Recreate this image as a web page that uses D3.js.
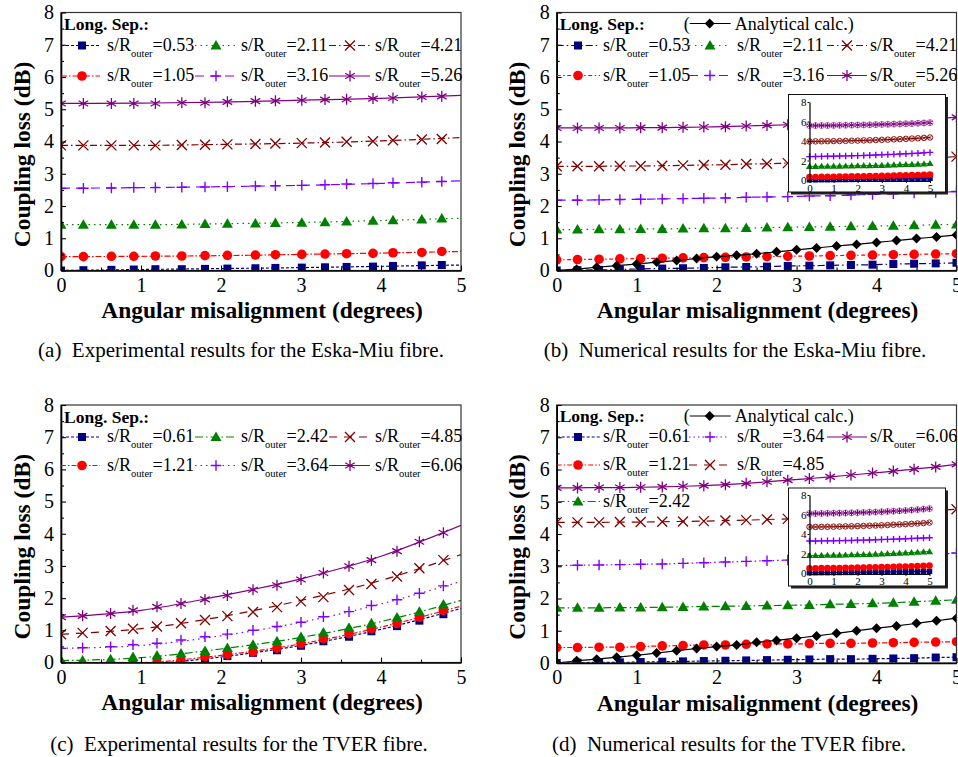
<!DOCTYPE html>
<html><head><meta charset="utf-8">
<script src="https://cdn.jsdelivr.net/npm/d3@7"></script>
<style>
body{margin:0;background:#fff;}
svg{display:block;}
</style></head><body>
<svg id="chart" width="958" height="757"></svg>
<script>
// ---------- data ----------
// x axes (angular misalignment, degrees)
const expAnglesA = [0, 0.28, 0.63, 0.91, 1.18, 1.51, 1.8, 2.08, 2.43, 2.68, 3.01, 3.3, 3.57, 3.9, 4.15, 4.51, 4.76];
const expAnglesC = [0, 0.27, 0.62, 0.9, 1.2, 1.5, 1.8, 2.08, 2.4, 2.7, 3.0, 3.28, 3.6, 3.88, 4.2, 4.48, 4.78];
const fitAngles = [0, 1, 2, 3, 4, 5];
const numAngles = [0, 0.26, 0.53, 0.79, 1.05, 1.32, 1.58, 1.84, 2.11, 2.37, 2.63, 2.89, 3.16, 3.42, 3.68, 3.95, 4.21, 4.47, 4.74, 5.0];
const anaAngles = [0, 0.25, 0.5, 0.75, 1, 1.25, 1.5, 1.75, 2, 2.25, 2.5, 2.75, 3, 3.25, 3.5, 3.75, 4, 4.25, 4.5, 4.75, 5];
const insetAngles = anaAngles;

// longitudinal separations (s/R_outer)
const sepEska = ["0.53", "1.05", "2.11", "3.16", "4.21", "5.26"];
const sepTver = ["0.61", "1.21", "2.42", "3.64", "4.85", "6.06"];

// (a) experimental, Eska-Miu: measured points and fitted trend lines
const a053 = [0.0, 0.01, 0.02, 0.03, 0.04, 0.04, 0.05, 0.06, 0.07, 0.08, 0.09, 0.1, 0.11, 0.12, 0.14, 0.16, 0.17];
const a105 = [0.43, 0.43, 0.44, 0.44, 0.45, 0.45, 0.46, 0.47, 0.48, 0.49, 0.5, 0.51, 0.52, 0.53, 0.55, 0.56, 0.59];
const a211 = [1.42, 1.42, 1.42, 1.42, 1.42, 1.43, 1.44, 1.45, 1.46, 1.47, 1.48, 1.5, 1.52, 1.54, 1.56, 1.58, 1.61];
const a316 = [2.55, 2.55, 2.56, 2.57, 2.57, 2.58, 2.59, 2.6, 2.62, 2.63, 2.64, 2.66, 2.68, 2.7, 2.72, 2.74, 2.76];
const a421 = [3.88, 3.88, 3.88, 3.88, 3.88, 3.89, 3.9, 3.91, 3.92, 3.94, 3.95, 3.97, 3.99, 4.01, 4.04, 4.06, 4.08];
const a526 = [5.18, 5.18, 5.18, 5.18, 5.18, 5.2, 5.2, 5.23, 5.25, 5.26, 5.28, 5.3, 5.31, 5.33, 5.35, 5.38, 5.4];
const fitA053 = [0.0, 0.03, 0.06, 0.09, 0.13, 0.17];
const fitA105 = [0.43, 0.44, 0.46, 0.5, 0.54, 0.59];
const fitA211 = [1.42, 1.42, 1.45, 1.49, 1.55, 1.62];
const fitA316 = [2.55, 2.57, 2.6, 2.64, 2.7, 2.78];
const fitA421 = [3.88, 3.88, 3.91, 3.95, 4.02, 4.12];
const fitA526 = [5.18, 5.19, 5.22, 5.28, 5.34, 5.43];

// (b) numerical, Eska-Miu
const b053 = [0.0, 0.01, 0.02, 0.03, 0.05, 0.06, 0.07, 0.08, 0.1, 0.11, 0.12, 0.14, 0.15, 0.16, 0.17, 0.18, 0.2, 0.21, 0.22, 0.24];
const b105 = [0.33, 0.34, 0.35, 0.36, 0.37, 0.38, 0.39, 0.4, 0.41, 0.42, 0.43, 0.44, 0.45, 0.46, 0.47, 0.48, 0.49, 0.5, 0.51, 0.52];
const b211 = [1.27, 1.27, 1.28, 1.28, 1.29, 1.29, 1.3, 1.31, 1.31, 1.32, 1.33, 1.34, 1.35, 1.36, 1.37, 1.38, 1.39, 1.4, 1.42, 1.43];
const b316 = [2.18, 2.18, 2.19, 2.2, 2.21, 2.22, 2.23, 2.24, 2.25, 2.27, 2.28, 2.29, 2.31, 2.32, 2.34, 2.36, 2.38, 2.4, 2.42, 2.45];
const b421 = [3.23, 3.23, 3.23, 3.24, 3.24, 3.25, 3.26, 3.27, 3.28, 3.3, 3.31, 3.33, 3.35, 3.37, 3.39, 3.41, 3.44, 3.47, 3.5, 3.53];
const b526 = [4.42, 4.42, 4.42, 4.42, 4.43, 4.43, 4.44, 4.45, 4.46, 4.48, 4.5, 4.52, 4.54, 4.56, 4.58, 4.61, 4.64, 4.67, 4.71, 4.75];
const anaB = [0, 0.04, 0.1, 0.15, 0.2, 0.26, 0.31, 0.37, 0.43, 0.47, 0.52, 0.58, 0.64, 0.7, 0.76, 0.81, 0.87, 0.93, 0.99, 1.04, 1.1];
// (b) inset
const insB053 = [0.02, 0.02, 0.03, 0.03, 0.04, 0.05, 0.05, 0.06, 0.07, 0.08, 0.08, 0.09, 0.1, 0.11, 0.12, 0.13, 0.14, 0.15, 0.16, 0.17, 0.18];
const insB105 = [0.3, 0.31, 0.32, 0.33, 0.34, 0.35, 0.36, 0.37, 0.38, 0.39, 0.4, 0.41, 0.42, 0.44, 0.45, 0.47, 0.48, 0.5, 0.52, 0.54, 0.56];
const insB211 = [1.4, 1.4, 1.41, 1.41, 1.42, 1.43, 1.44, 1.45, 1.46, 1.47, 1.48, 1.5, 1.51, 1.53, 1.55, 1.57, 1.59, 1.61, 1.63, 1.66, 1.69];
const insB316 = [2.4, 2.41, 2.42, 2.43, 2.44, 2.46, 2.47, 2.49, 2.5, 2.52, 2.54, 2.56, 2.58, 2.61, 2.63, 2.66, 2.69, 2.72, 2.75, 2.79, 2.83];
const insB421 = [3.95, 3.96, 3.97, 3.98, 3.99, 4.0, 4.01, 4.03, 4.04, 4.06, 4.08, 4.1, 4.12, 4.14, 4.17, 4.19, 4.22, 4.25, 4.28, 4.32, 4.36];
const insB526 = [5.58, 5.58, 5.59, 5.59, 5.6, 5.61, 5.62, 5.63, 5.64, 5.65, 5.66, 5.68, 5.7, 5.71, 5.73, 5.75, 5.77, 5.79, 5.82, 5.85, 5.88];

// (c) experimental, TVER
const c061 = [null, null, null, -0.02, 0.0, 0.03, 0.1, 0.2, 0.3, 0.38, 0.52, 0.66, 0.8, 0.97, 1.13, 1.3, 1.5];
const c121 = [null, null, null, -0.02, 0.0, 0.07, 0.18, 0.25, 0.33, 0.45, 0.59, 0.74, 0.9, 1.05, 1.21, 1.41, 1.62];
const c242 = [0.07, 0.06, 0.1, 0.17, 0.22, 0.28, 0.36, 0.45, 0.55, 0.66, 0.79, 0.93, 1.08, 1.22, 1.4, 1.58, 1.8];
const c364 = [0.44, 0.46, 0.49, 0.55, 0.6, 0.7, 0.8, 0.88, 1.0, 1.12, 1.25, 1.42, 1.58, 1.77, 1.95, 2.15, 2.38];
const c485 = [0.88, 0.92, 0.98, 1.05, 1.12, 1.22, 1.32, 1.44, 1.57, 1.72, 1.9, 2.03, 2.25, 2.44, 2.67, 2.93, 3.18];
const c606 = [1.41, 1.45, 1.52, 1.62, 1.73, 1.83, 1.96, 2.08, 2.26, 2.4, 2.58, 2.78, 2.99, 3.18, 3.46, 3.75, 4.03];
const fitC061 = [-0.25, -0.08, 0.17, 0.53, 1.03, 1.68];
const fitC121 = [-0.2, -0.03, 0.22, 0.58, 1.1, 1.75];
const fitC242 = [0.06, 0.15, 0.42, 0.78, 1.27, 1.93];
const fitC364 = [0.44, 0.53, 0.83, 1.25, 1.82, 2.52];
const fitC485 = [0.88, 1.05, 1.42, 1.93, 2.55, 3.35];
const fitC606 = [1.41, 1.62, 2.07, 2.6, 3.3, 4.26];

// (d) numerical, TVER
const d061 = [0.0, 0.01, 0.02, 0.02, 0.03, 0.04, 0.05, 0.06, 0.07, 0.08, 0.09, 0.1, 0.11, 0.12, 0.12, 0.13, 0.14, 0.15, 0.17, 0.18];
const d121 = [0.48, 0.48, 0.49, 0.49, 0.51, 0.53, 0.54, 0.56, 0.56, 0.58, 0.59, 0.59, 0.6, 0.61, 0.61, 0.62, 0.63, 0.64, 0.65, 0.66];
const d242 = [1.71, 1.71, 1.71, 1.72, 1.72, 1.73, 1.74, 1.75, 1.76, 1.77, 1.78, 1.79, 1.8, 1.82, 1.83, 1.85, 1.87, 1.9, 1.93, 1.96];
const d364 = [3.02, 3.03, 3.04, 3.05, 3.06, 3.07, 3.09, 3.11, 3.13, 3.15, 3.17, 3.19, 3.21, 3.23, 3.25, 3.28, 3.31, 3.34, 3.37, 3.41];
const d485 = [4.36, 4.36, 4.36, 4.37, 4.37, 4.38, 4.39, 4.4, 4.42, 4.43, 4.45, 4.47, 4.5, 4.53, 4.56, 4.59, 4.63, 4.67, 4.72, 4.77];
const d606 = [5.43, 5.43, 5.44, 5.44, 5.45, 5.46, 5.48, 5.5, 5.53, 5.57, 5.62, 5.67, 5.72, 5.77, 5.83, 5.89, 5.95, 6.01, 6.08, 6.16];
const anaD = [0, 0.07, 0.12, 0.18, 0.24, 0.31, 0.38, 0.45, 0.51, 0.56, 0.64, 0.7, 0.77, 0.84, 0.92, 1.0, 1.08, 1.15, 1.23, 1.31, 1.39];
// (d) inset
const insD061 = [0.03, 0.03, 0.04, 0.04, 0.05, 0.05, 0.06, 0.06, 0.07, 0.08, 0.08, 0.09, 0.1, 0.1, 0.11, 0.12, 0.13, 0.14, 0.15, 0.16, 0.17];
const insD121 = [0.48, 0.49, 0.5, 0.5, 0.51, 0.52, 0.53, 0.54, 0.55, 0.56, 0.58, 0.59, 0.6, 0.62, 0.63, 0.65, 0.67, 0.69, 0.71, 0.73, 0.76];
const insD242 = [1.8, 1.8, 1.81, 1.82, 1.83, 1.84, 1.85, 1.87, 1.88, 1.9, 1.92, 1.94, 1.96, 1.98, 2.01, 2.04, 2.07, 2.1, 2.13, 2.17, 2.2];
const insD364 = [3.28, 3.28, 3.29, 3.3, 3.31, 3.32, 3.33, 3.34, 3.36, 3.37, 3.39, 3.41, 3.43, 3.45, 3.47, 3.49, 3.51, 3.54, 3.56, 3.59, 3.62];
const insD485 = [4.72, 4.72, 4.73, 4.74, 4.75, 4.76, 4.78, 4.79, 4.81, 4.83, 4.85, 4.87, 4.89, 4.92, 4.95, 4.98, 5.01, 5.04, 5.08, 5.12, 5.17];
const insD606 = [6.1, 6.1, 6.11, 6.12, 6.13, 6.14, 6.15, 6.17, 6.19, 6.21, 6.23, 6.25, 6.28, 6.31, 6.34, 6.37, 6.41, 6.45, 6.5, 6.55, 6.6];

const yTicks = [0, 1, 2, 3, 4, 5, 6, 7, 8];
const xTicks = [0, 1, 2, 3, 4, 5];
const insetYTicks = [0, 2, 4, 6, 8];
const captions = [
  "(a)\u00a0 Experimental results for the Eska-Miu fibre.",
  "(b)\u00a0 Numerical results for the Eska-Miu fibre.",
  "(c)\u00a0 Experimental results for the TVER fibre.",
  "(d)\u00a0 Numerical results for the TVER fibre."
];

// ---------- styling ----------
const C = {navy: "#000080", red: "#ff0000", green: "#008000", brown: "#800000", violet: "#8000ff", purple: "#800080", black: "#000000"};
const FONT = "Liberation Serif, Times New Roman, serif";
const svg = d3.select("#chart").attr("font-family", FONT);

function drawMarker(sel, type, s, color) {
  const h = s / 2;
  if (type === "square") {
    sel.append("rect").attr("x", -h).attr("y", -h).attr("width", s).attr("height", s).attr("fill", color);
  } else if (type === "circle") {
    sel.append("circle").attr("r", h + 0.3).attr("fill", color);
  } else if (type === "triangle") {
    sel.append("path").attr("d", `M0,${-h * 1.1}L${h * 1.1},${h * 0.8}L${-h * 1.1},${h * 0.8}Z`).attr("fill", color);
  } else if (type === "diamond") {
    sel.append("path").attr("d", `M0,${-h * 1.05}L${h * 1.05},0L0,${h * 1.05}L${-h * 1.05},0Z`).attr("fill", color);
  } else if (type === "x") {
    sel.append("path").attr("d", `M${-h},${-h}L${h},${h}M${-h},${h}L${h},${-h}`).attr("stroke", color).attr("stroke-width", 1.3).attr("fill", "none");
  } else if (type === "plus") {
    sel.append("path").attr("d", `M${-h},0H${h}M0,${-h}V${h}`).attr("stroke", color).attr("stroke-width", 1.4).attr("fill", "none");
  } else if (type === "star") {
    const a = h * 0.87, b = h * 0.5;
    sel.append("path").attr("d", `M0,${-h}V${h}M${-a},${-b}L${a},${b}M${-a},${b}L${a},${-b}`).attr("stroke", color).attr("stroke-width", 1.3).attr("fill", "none");
  } else if (type === "xcircle") {
    sel.append("circle").attr("r", h).attr("fill", "none").attr("stroke", color).attr("stroke-width", 0.9);
    const q = h * 0.7;
    sel.append("path").attr("d", `M${-q},${-q}L${q},${q}M${-q},${q}L${q},${-q}`).attr("stroke", color).attr("stroke-width", 0.8);
  } else if (type === "starcircle") {
    sel.append("circle").attr("r", h).attr("fill", "none").attr("stroke", "#b060b0").attr("stroke-width", 0.9);
    const a = h * 0.87, b = h * 0.5;
    sel.append("path").attr("d", `M0,${-h}V${h}M${-a},${-b}L${a},${b}M${-a},${b}L${a},${-b}`).attr("stroke", color).attr("stroke-width", 1);
  }
}

const MK = {navy: "square", red: "circle", green: "triangle", brown: "x", violet: "plus", purple: "star", black: "diamond"};
const MSIZE = {square: 8, circle: 9, triangle: 10, diamond: 9.5, x: 10, plus: 10.5, star: 11};

function addSubLabel(g, x, y, value) {
  const t = g.append("text").attr("x", x).attr("y", y).attr("font-size", 18).attr("fill", "#000");
  t.append("tspan").text("s/R");
  t.append("tspan").attr("font-size", 10.5).attr("dy", 6).text("outer");
  t.append("tspan").attr("dy", -6).text("=" + value);
}

function drawPanel(p) {
  const x = d3.scaleLinear().domain([0, 5]).range([p.left, p.right]);
  const y = d3.scaleLinear().domain([0, 8]).range([p.bottom, p.top]);
  const g = svg.append("g").attr("font-family", FONT);
  const clipId = "clip-" + p.id;
  svg.append("defs").append("clipPath").attr("id", clipId)
    .append("rect").attr("x", p.left).attr("y", p.top).attr("width", p.right - p.left).attr("height", p.bottom - p.top);

  const plot = g.append("g").attr("clip-path", `url(#${clipId})`);
  const line = d3.line().x(d => x(d[0])).y(d => y(d[1])).curve(d3.curveMonotoneX);

  p.series.forEach(s => {
    const pts = s.angles.map((a, i) => [a, s.values[i]]).filter(d => d[1] != null);
    const lp = s.fit ? fitAngles.map((a, i) => [a, s.fit[i]]) : pts;
    plot.append("path").datum(lp).attr("d", line).attr("fill", "none")
      .attr("stroke", C[s.color]).attr("stroke-width", 1.2)
      .attr("stroke-dasharray", s.dash || null);
    const type = MK[s.color];
    plot.append("g").selectAll("g").data(pts).join("g")
      .attr("transform", d => `translate(${x(d[0])},${y(d[1])})`)
      .each(function () { drawMarker(d3.select(this), type, MSIZE[type], C[s.color]); });
  });

  // frame
  g.append("rect").attr("x", p.left).attr("y", p.top).attr("width", p.right - p.left).attr("height", p.bottom - p.top)
    .attr("fill", "none").attr("stroke", "#333").attr("stroke-width", 1.2);

  // axes
  const yAx = g.append("g").attr("transform", `translate(${p.left},0)`)
    .call(d3.axisLeft(y).tickValues(yTicks).tickFormat(d3.format("d")).tickSize(-5).tickSizeOuter(0).tickPadding(7));
  g.append("g").attr("transform", `translate(${p.left},0)`)
    .call(d3.axisLeft(y).tickValues(yTicks.slice(0, -1).map(v => v + 0.5)).tickFormat("").tickSize(-3).tickSizeOuter(0))
    .select(".domain").remove();
  const xAx = g.append("g").attr("transform", `translate(0,${p.bottom})`)
    .call(d3.axisBottom(x).tickValues(xTicks).tickFormat(d3.format("d")).tickSize(-5).tickSizeOuter(0).tickPadding(7));
  g.append("g").attr("transform", `translate(0,${p.bottom})`)
    .call(d3.axisBottom(x).tickValues(xTicks.slice(0, -1).map(v => v + 0.5)).tickFormat("").tickSize(-3).tickSizeOuter(0))
    .select(".domain").remove();
  g.selectAll(".tick line").attr("stroke", "#000").attr("stroke-width", 1.1);
  [yAx, xAx].forEach(a => {
    a.select(".domain").attr("stroke", "#000").attr("stroke-width", 1.6);
    a.selectAll("text").attr("font-family", FONT).attr("font-size", 20).attr("fill", "#000");
  });

  // axis titles
  const midY = (p.top + p.bottom) / 2 + 13;
  g.append("text").attr("transform", `translate(${p.ytitleX},${midY}) rotate(-90)`)
    .attr("text-anchor", "middle").attr("dy", "0.35em").attr("font-size", 23.5).attr("font-weight", "bold")
    .text("Coupling loss (dB)");
  g.append("text").attr("x", (p.left + p.right) / 2 + 1).attr("y", p.bottom + 47.5)
    .attr("text-anchor", "middle").attr("font-size", 23.5).attr("font-weight", "bold")
    .text("Angular misalignment (degrees)");

  // legend
  const lg = g.append("g");
  lg.append("text").attr("x", p.left + 3).attr("y", p.legendTop).attr("font-size", 17.5).attr("font-weight", "bold").text("Long. Sep.:");
  if (p.analytic) {
    const ay = p.legendTop;
    lg.append("text").attr("x", p.left + 127).attr("y", ay).attr("font-size", 18).text("(");
    lg.append("line").attr("x1", p.left + 133).attr("x2", p.left + 174).attr("y1", ay - 6).attr("y2", ay - 6).attr("stroke", "#000").attr("stroke-width", 1.2);
    drawMarker(lg.append("g").attr("transform", `translate(${p.left + 153},${ay - 6})`), "diamond", 9.5, "#000");
    lg.append("text").attr("x", p.left + 178).attr("y", ay).attr("font-size", 18).text("Analytical calc.)");
  }
  p.series.filter(s => s.label).forEach((s, i) => {
    const pos = p.legendPos[i];
    const col = p.legendCols[pos[0]];
    const by = p.legendRows[pos[1]];
    lg.append("line").attr("x1", col[0]).attr("x2", col[1]).attr("y1", by - 5).attr("y2", by - 5)
      .attr("stroke", C[s.color]).attr("stroke-width", 1.2).attr("stroke-dasharray", s.dash || null);
    const type = MK[s.color];
    drawMarker(lg.append("g").attr("transform", `translate(${col[2]},${by - 5})`), type, MSIZE[type], C[s.color]);
    addSubLabel(lg, col[3], by, s.label);
  });

  // caption
  svg.append("text").attr("x", p.capX).attr("y", p.capY).attr("text-anchor", "middle")
    .attr("font-family", FONT).attr("font-size", 21).attr("fill", "#000").text(p.caption);
}

function drawInset(box, series) {
  const g = svg.append("g").attr("font-family", FONT);
  g.append("rect").attr("x", box.x0 + 2.5).attr("y", box.y0 + 2.5).attr("width", box.x1 - box.x0).attr("height", box.y1 - box.y0).attr("fill", "#222");
  g.append("rect").attr("x", box.x0).attr("y", box.y0).attr("width", box.x1 - box.x0).attr("height", box.y1 - box.y0)
    .attr("fill", "#fff").attr("stroke", "#111").attr("stroke-width", 1);
  const x = d3.scaleLinear().domain([0, 5]).range([box.px0, box.px1]);
  const y = d3.scaleLinear().domain([0, 8]).range([box.py0, box.py1]);
  const line = d3.line().x(d => x(d[0])).y(d => y(d[1]));
  series.forEach(s => {
    const pts = insetAngles.map((a, i) => [a, s.values[i]]);
    g.append("path").datum(pts).attr("d", line).attr("fill", "none").attr("stroke", C[s.color]).attr("stroke-width", 1);
    g.append("g").selectAll("g").data(pts).join("g")
      .attr("transform", d => `translate(${x(d[0])},${y(d[1])})`)
      .each(function () { drawMarker(d3.select(this), s.marker, s.size, C[s.color]); });
  });
  const ya = g.append("g").attr("transform", `translate(${box.px0},0)`)
    .call(d3.axisLeft(y).tickValues(insetYTicks).tickFormat(d3.format("d")).tickSize(2).tickSizeOuter(0).tickPadding(1));
  const xa = g.append("g").attr("transform", `translate(0,${box.py0 + 1})`)
    .call(d3.axisBottom(x).tickValues(xTicks).tickFormat(d3.format("d")).tickSize(2).tickSizeOuter(0).tickPadding(1));
  [ya, xa].forEach(a => {
    a.select(".domain").attr("stroke", "#000").attr("stroke-width", 1.2);
    a.selectAll(".tick line").attr("stroke", "#000");
    a.selectAll("text").attr("font-family", FONT).attr("font-size", 11).attr("fill", "#000");
  });
}

// ---------- panels ----------
const colsL = [[61, 100, 82, 107], [195, 235, 216, 241], [329, 370, 350, 375]];
const colsR = [[556.7, 600, 578, 603], [689, 728, 710, 737], [827, 867, 847, 870]];
const pos3x2 = [[0, 0], [0, 1], [1, 0], [1, 1], [2, 0], [2, 1]];

drawPanel({
  id: "a", left: 61, right: 461, top: 12.5, bottom: 270.5, ytitleX: 22,
  legendTop: 29.5, legendRows: [50.5, 81], legendCols: colsL, legendPos: pos3x2,
  caption: captions[0], capX: 241, capY: 357,
  series: [
    {label: sepEska[0], color: "navy", dash: "3,2", angles: expAnglesA, values: a053, fit: fitA053},
    {label: sepEska[1], color: "red", dash: "6,2,1.5,2", angles: expAnglesA, values: a105, fit: fitA105},
    {label: sepEska[2], color: "green", dash: "1.5,4", angles: expAnglesA, values: a211, fit: fitA211},
    {label: sepEska[3], color: "violet", dash: "9,6", angles: expAnglesA, values: a316, fit: fitA316},
    {label: sepEska[4], color: "brown", dash: "7,3,1.5,3", angles: expAnglesA, values: a421, fit: fitA421},
    {label: sepEska[5], color: "purple", dash: null, angles: expAnglesA, values: a526, fit: fitA526}
  ]
});

drawPanel({
  id: "b", left: 556.7, right: 956.5, top: 12.5, bottom: 270.5, ytitleX: 517,
  legendTop: 29.5, legendRows: [50.5, 80.5], legendCols: colsR, legendPos: pos3x2, analytic: true,
  caption: captions[1], capX: 735, capY: 357,
  series: [
    {label: sepEska[0], color: "navy", dash: "7,3,1.5,3", angles: numAngles, values: b053},
    {label: sepEska[1], color: "red", dash: "4,2.5,1.5,2.5", angles: numAngles, values: b105},
    {label: sepEska[2], color: "green", dash: "1.5,4.5", angles: numAngles, values: b211},
    {label: sepEska[3], color: "violet", dash: "9,6", angles: numAngles, values: b316},
    {label: sepEska[4], color: "brown", dash: "7,3,1.5,3", angles: numAngles, values: b421},
    {label: sepEska[5], color: "purple", dash: null, angles: numAngles, values: b526},
    {label: null, color: "black", dash: null, angles: anaAngles, values: anaB}
  ]
});

drawInset({x0: 788.5, x1: 945.5, y0: 94.5, y1: 192, px0: 809.5, px1: 930, py0: 180, py1: 102}, [
  {color: "navy", marker: "square", size: 5.5, values: insB053},
  {color: "red", marker: "circle", size: 6, values: insB105},
  {color: "green", marker: "triangle", size: 6.5, values: insB211},
  {color: "violet", marker: "plus", size: 6.5, values: insB316},
  {color: "brown", marker: "xcircle", size: 5.5, values: insB421},
  {color: "purple", marker: "starcircle", size: 6, values: insB526}
]);

drawPanel({
  id: "c", left: 61, right: 461, top: 405, bottom: 662.5, ytitleX: 22,
  legendTop: 423, legendRows: [442, 470.5], legendCols: colsL, legendPos: pos3x2,
  caption: captions[2], capX: 239, capY: 751,
  series: [
    {label: sepTver[0], color: "navy", dash: "3,2", angles: expAnglesC, values: c061, fit: fitC061},
    {label: sepTver[1], color: "red", dash: "5,2,1.5,2", angles: expAnglesC, values: c121, fit: fitC121},
    {label: sepTver[2], color: "green", dash: "8,3,1.5,3", angles: expAnglesC, values: c242, fit: fitC242},
    {label: sepTver[3], color: "violet", dash: "1.5,4", angles: expAnglesC, values: c364, fit: fitC364},
    {label: sepTver[4], color: "brown", dash: "8,7", angles: expAnglesC, values: c485, fit: fitC485},
    {label: sepTver[5], color: "purple", dash: null, angles: expAnglesC, values: c606, fit: fitC606}
  ]
});

drawPanel({
  id: "d", left: 556.7, right: 956.5, top: 405, bottom: 663, ytitleX: 517,
  legendTop: 422, legendRows: [442, 470, 506.5], legendCols: colsR,
  legendPos: [[0, 0], [0, 1], [0, 2], [1, 0], [1, 1], [2, 0]], analytic: true,
  caption: captions[3], capX: 729, capY: 751,
  series: [
    {label: sepTver[0], color: "navy", dash: "3,2", angles: numAngles, values: d061},
    {label: sepTver[1], color: "red", dash: "5,2,1.5,2", angles: numAngles, values: d121},
    {label: sepTver[2], color: "green", dash: "8,3,1.5,3", angles: numAngles, values: d242},
    {label: sepTver[3], color: "violet", dash: "1.5,3", angles: numAngles, values: d364},
    {label: sepTver[4], color: "brown", dash: "8,7", angles: numAngles, values: d485},
    {label: sepTver[5], color: "purple", dash: null, angles: numAngles, values: d606},
    {label: null, color: "black", dash: null, angles: anaAngles, values: anaD}
  ]
});

drawInset({x0: 788.5, x1: 945.5, y0: 488, y1: 586, px0: 809.5, px1: 929.5, py0: 573, py1: 495}, [
  {color: "navy", marker: "square", size: 5.5, values: insD061},
  {color: "red", marker: "circle", size: 6, values: insD121},
  {color: "green", marker: "triangle", size: 6.5, values: insD242},
  {color: "violet", marker: "plus", size: 6.5, values: insD364},
  {color: "brown", marker: "xcircle", size: 5.5, values: insD485},
  {color: "purple", marker: "starcircle", size: 6, values: insD606}
]);
</script>
</body></html>
